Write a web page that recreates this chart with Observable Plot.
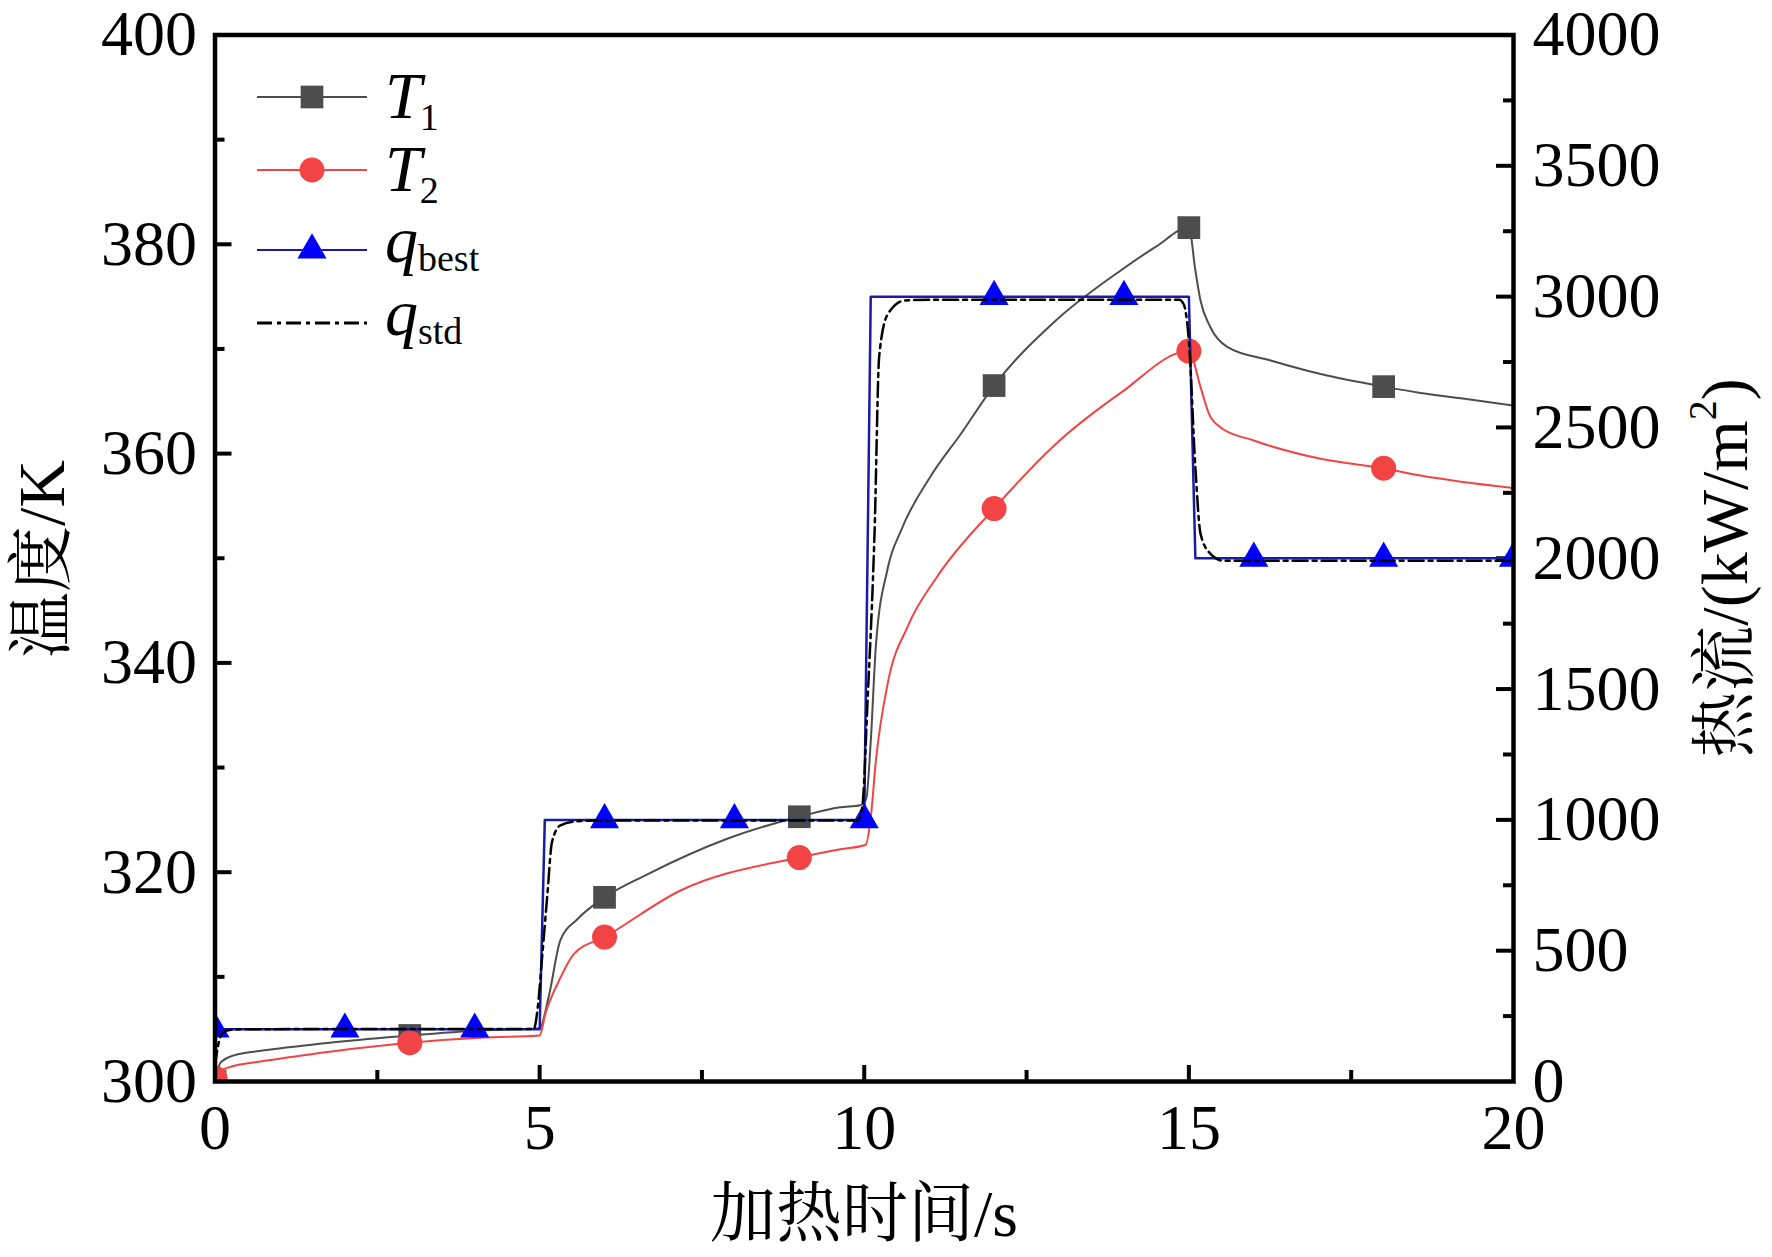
<!DOCTYPE html>
<html>
<head>
<meta charset="utf-8">
<script src="https://cdn.jsdelivr.net/npm/d3@7"></script>
<script src="https://cdn.jsdelivr.net/npm/@observablehq/plot@0.6"></script>
<style>
  html, body { margin: 0; padding: 0; background: #fff; }
  #chart svg { display: block; }
</style>
</head>
<body>
<div id="chart"></div>
<script>
// ---------- data ----------
const t1Time = [0, 0.03, 0.085, 0.29, 0.8, 1.83, 3, 4.14, 5, 5.14, 5.32, 5.58, 6, 6.66, 7.89, 9, 9.63, 9.94, 10.03, 10.1, 10.18, 10.36, 10.57, 11.03, 11.49, 12, 12.93, 13.95, 14.5, 15, 15.1, 15.18, 15.33, 15.59, 16.26, 17.03, 18, 18.57, 19.3, 20];
const t1Temp = [300, 300.8, 301.8, 302.5, 303.0, 303.75, 304.4, 304.9, 305.1, 308.1, 313.5, 315.5, 317.6, 319.8, 323.2, 325.3, 326.2, 326.4, 327.0, 332.5, 341.7, 349.0, 352.7, 357.9, 361.9, 366.5, 372.6, 377.5, 379.8, 381.6, 377.5, 374.6, 372.1, 370.2, 368.9, 367.6, 366.4, 365.8, 365.2, 364.6];

const t2Time = [0, 0.06, 0.19, 0.8, 1.83, 3, 4.14, 5, 5.09, 5.3, 5.53, 6, 7.17, 8.99, 9.63, 10.02, 10.1, 10.18, 10.36, 10.67, 11.13, 12, 12.93, 13.95, 15, 15.18, 15.31, 15.49, 16, 17.03, 18, 18.57, 20];
const t2Temp = [300.3, 300.9, 301.3, 302.0, 302.9, 303.7, 304.2, 304.4, 306.5, 309.65, 312.2, 313.8, 318.25, 321.4, 322.2, 322.6, 325.2, 330.7, 338.0, 343.5, 348.3, 354.75, 360.8, 365.8, 369.8, 366.35, 363.8, 362.5, 361.25, 359.5, 358.6, 357.9, 356.7];

const qBestTime = [0, 5, 5.08, 10, 10.1, 15, 15.1, 20];
const qBestFlux = [200, 200, 1000, 1000, 3000, 3000, 2000, 2000];

const qStdTime = [0, 0.05, 0.12, 0.25, 0.5, 4.91, 4.97, 5.04, 5.12, 5.19, 5.32, 5.58, 6, 9.9, 9.97, 10.05, 10.16, 10.23, 10.36, 10.62, 11, 14.85, 14.92, 15.0, 15.1, 15.18, 15.33, 15.54, 16, 20];
const qStdFlux = [60, 140, 188, 198, 200, 201, 280, 480, 717, 915, 979, 995, 998, 998, 1050, 1450, 2110, 2772, 2932, 2985, 2988, 2988, 2971, 2832, 2348, 2093, 2018, 1990, 1990, 1990];

const tMarkTime = [0, 3, 6, 9, 12, 15, 18];
const t1MarkTemp = [300, 304.4, 317.6, 325.3, 366.5, 381.6, 366.4];
const t2MarkTemp = [300.3, 303.7, 313.8, 321.4, 354.75, 369.8, 358.6];
const qMarkTime = [0, 2, 4, 6, 8, 10, 12, 14, 16, 18, 20];
const qMarkFlux = [200, 200, 200, 1000, 1000, 1000, 3000, 3000, 2000, 2000, 2000];

const xTicks = [0, 5, 10, 15, 20];
const xMinor = [2.5, 7.5, 12.5, 17.5];
const leftTicks = [300, 320, 340, 360, 380, 400];
const leftMinor = [310, 330, 350, 370, 390];
const rightTicks = [0, 500, 1000, 1500, 2000, 2500, 3000, 3500, 4000];
const rightMinor = [250, 750, 1250, 1750, 2250, 2750, 3250, 3750];

const xTitle = "加热时间/s";
const yTitle = "温度/K";
const y2Title = "热流/(kW/m";

// ---------- layout ----------
const W = 1772, H = 1257;
const mL = 214.5, mR = 259, mT = 34.5, mB = 176;
const plotW = W - mL - mR, plotH = H - mT - mB;
const serif = "'Liberation Serif', 'Times New Roman', 'Noto Serif CJK SC', 'Noto Sans CJK SC', serif";

// heat flux shares the temperature scale: 0..4000 -> 300..400
const qToY = q => 300 + q / 40;
const zip = (xs, ys, f = d => d) => xs.map((x, i) => ({x, y: f(ys[i])}));

const T1 = zip(t1Time, t1Temp);
const T2 = zip(t2Time, t2Temp);
const QB = zip(qBestTime, qBestFlux, qToY);
const QS = zip(qStdTime, qStdFlux, qToY);
const T1m = zip(tMarkTime, t1MarkTemp);
const T2m = zip(tMarkTime, t2MarkTemp);
const QBm = zip(qMarkTime, qMarkFlux, qToY);

const cT1 = "#4d4d4d", cT2 = "#f24444", cQB = "#1a1aa8", cQBm = "#0000ff";
const dashDot = "15,5,4,5";

const inner = (arr, lo, hi) => arr.filter(d => d > lo && d < hi);

const svg = Plot.plot({
  width: W, height: H,
  marginLeft: mL, marginRight: mR, marginTop: mT, marginBottom: mB,
  style: {background: "#fff", fontFamily: serif, color: "#000"},
  x: {domain: [0, 20], axis: null},
  y: {domain: [300, 400], axis: null},
  marks: [
    // inward ticks
    Plot.tickY(inner(leftTicks, 300, 400), {y: d => d, stroke: "#000", strokeWidth: 4, insetRight: plotW - 17}),
    Plot.tickY(leftMinor, {y: d => d, stroke: "#000", strokeWidth: 4, insetRight: plotW - 10}),
    Plot.tickY(inner(rightTicks, 0, 4000).map(qToY), {y: d => d, stroke: "#000", strokeWidth: 4, insetLeft: plotW - 17}),
    Plot.tickY(rightMinor.map(qToY), {y: d => d, stroke: "#000", strokeWidth: 4, insetLeft: plotW - 10}),
    Plot.tickX(inner(xTicks, 0, 20), {x: d => d, stroke: "#000", strokeWidth: 4, insetTop: plotH - 16}),
    Plot.tickX(xMinor, {x: d => d, stroke: "#000", strokeWidth: 4, insetTop: plotH - 11}),
    // tick labels
    Plot.axisX(xTicks, {anchor: "bottom", tickSize: 0, tickPadding: 22, fontSize: 64, fontFamily: serif, label: null, tickFormat: d => String(d)}),
    Plot.axisY(leftTicks, {anchor: "left", tickSize: 0, tickPadding: 18, fontSize: 64, fontFamily: serif, label: null, tickFormat: d => String(d)}),
    Plot.axisY(rightTicks.map(qToY), {anchor: "right", tickSize: 0, tickPadding: 19, fontSize: 64, fontFamily: serif, label: null, tickFormat: d => String(Math.round((d - 300) * 40))}),
    // series
    Plot.line(T1, {x: "x", y: "y", stroke: cT1, strokeWidth: 2, curve: "monotone-x", clip: true}),
    Plot.dot(T1m, {x: "x", y: "y", symbol: "square", r: 12.8, fill: cT1, stroke: "none", clip: true}),
    Plot.line(T2, {x: "x", y: "y", stroke: cT2, strokeWidth: 2, curve: "monotone-x", clip: true}),
    Plot.dot(T2m, {x: "x", y: "y", symbol: "circle", r: 12.5, fill: cT2, stroke: "none", clip: true}),
    Plot.line(QB, {x: "x", y: "y", stroke: cQB, strokeWidth: 2.5, clip: true}),
    Plot.dot(QBm, {x: "x", y: "y", symbol: "triangle", r: 10.8, fill: cQBm, stroke: "none", clip: true}),
    Plot.line(QS, {x: "x", y: "y", stroke: "#000", strokeWidth: 2.5, strokeDasharray: dashDot, curve: "monotone-x", clip: true}),
    Plot.frame({stroke: "#000", strokeWidth: 4.5})
  ]
});

const s = d3.select(svg);

// ---------- legend ----------
const leg = s.append("g").attr("font-family", serif).attr("fill", "#000").attr("text-anchor", "start");
const rows = [
  {y: 97,  stroke: cT1, symbol: d3.symbolSquare, size: Math.PI * 12.8 * 12.8, fill: cT1, main: "T", sub: "1", dashed: false, kind: "T"},
  {y: 170, stroke: cT2, symbol: d3.symbolCircle, size: Math.PI * 12.5 * 12.5, fill: cT2, main: "T", sub: "2", dashed: false, kind: "T"},
  {y: 250, stroke: cQB, symbol: d3.symbolTriangle, size: Math.PI * 10.8 * 10.8, fill: cQBm, main: "q", sub: "best", dashed: false, kind: "q"},
  {y: 323, stroke: "#000", symbol: null, main: "q", sub: "std", dashed: true, kind: "q"}
];
rows.forEach(r => {
  leg.append("line").attr("x1", 257).attr("x2", 367).attr("y1", r.y).attr("y2", r.y)
    .attr("stroke", r.stroke).attr("stroke-width", r.dashed ? 3 : 2)
    .attr("stroke-dasharray", r.dashed ? dashDot : null);
  if (r.symbol) {
    leg.append("path").attr("d", d3.symbol(r.symbol, r.size)())
      .attr("transform", `translate(312,${r.y})`).attr("fill", r.fill);
  }
  const base = r.kind === "T" ? r.y + 21 : r.y + 12;
  const subDy = r.kind === "T" ? 12 : 9;
  const t = leg.append("text").attr("x", 385).attr("y", base).attr("font-size", 66)
    .attr("font-style", "italic").attr("text-anchor", "start");
  t.append("tspan").text(r.main);
  t.append("tspan").attr("font-style", "normal").attr("font-size", 38).attr("dy", subDy)
    .attr("dx", r.kind === "T" ? -2 : 0).text(r.sub);
});

// ---------- axis titles ----------
s.append("text").attr("font-family", serif).attr("font-size", 66)
  .attr("text-anchor", "middle").attr("dominant-baseline", "central")
  .attr("transform", "translate(41,559) rotate(-90)").text(yTitle);

s.append("text").attr("font-family", serif).attr("font-size", 66)
  .attr("text-anchor", "middle").attr("dominant-baseline", "central")
  .attr("x", 864).attr("y", 1213).text(xTitle);

const rt = s.append("text").attr("font-family", serif).attr("font-size", 66)
  .attr("text-anchor", "middle").attr("dominant-baseline", "central")
  .attr("transform", "translate(1724,568) rotate(-90)");
rt.append("tspan").text(y2Title);
rt.append("tspan").attr("font-size", 40).attr("dy", -22).text("2");
rt.append("tspan").attr("dy", 22).text(")");

document.getElementById("chart").appendChild(svg);
</script>
</body>
</html>
